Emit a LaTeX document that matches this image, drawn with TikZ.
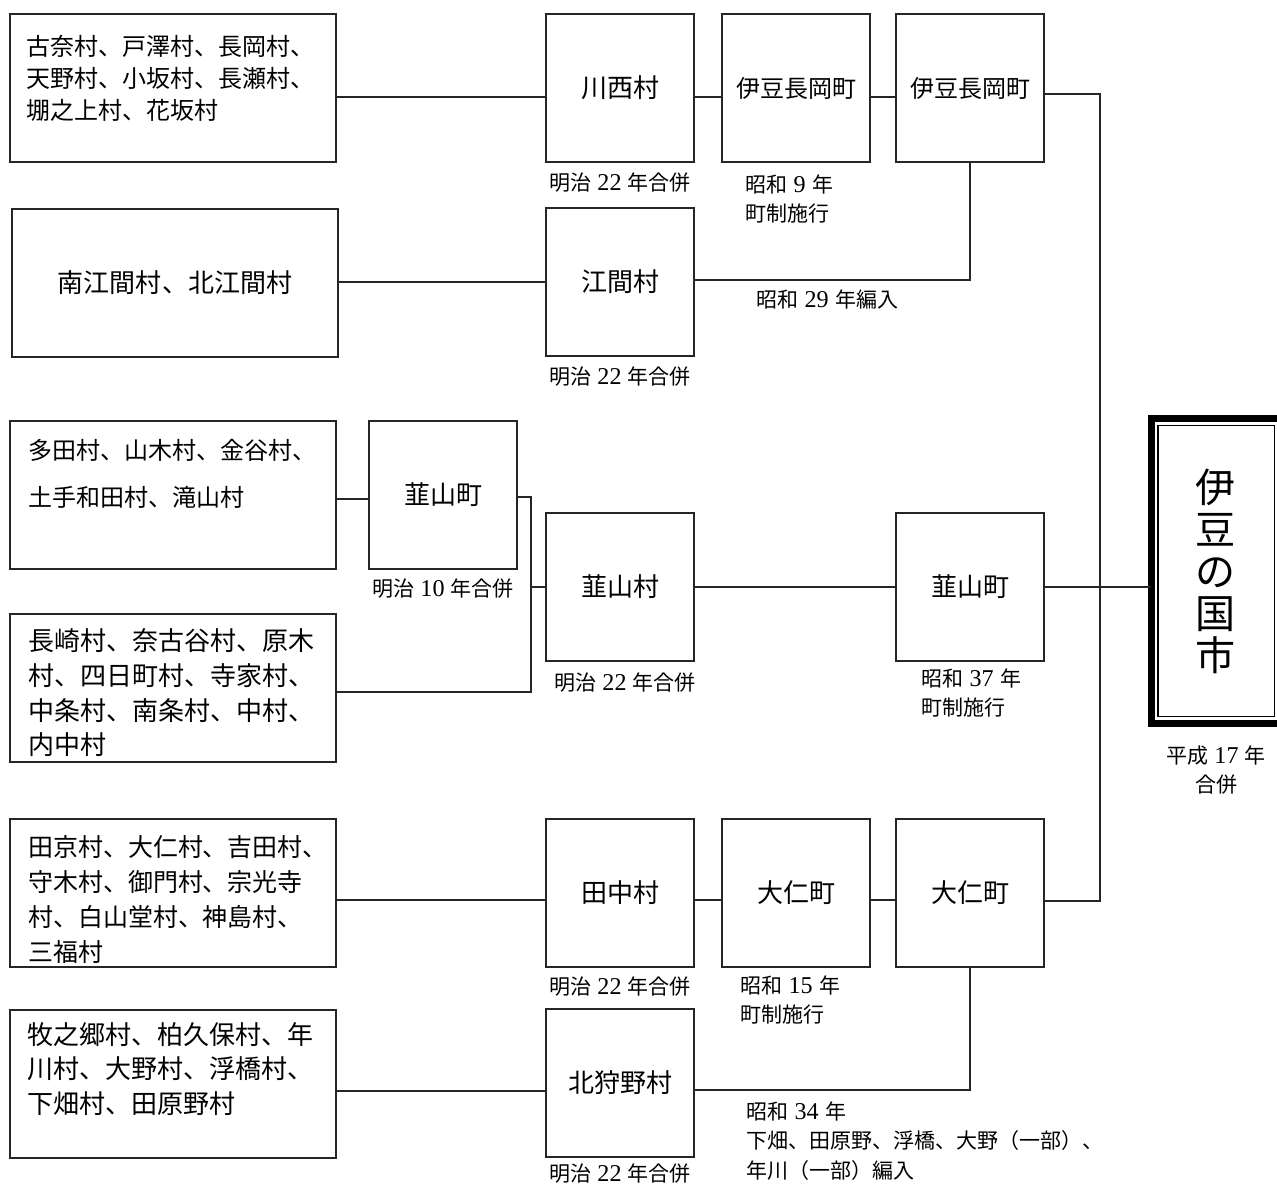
\documentclass[tikz,border=0pt]{standalone}
\usepackage{fontspec}
\setmainfont{Noto Sans CJK JP}
\newfontfamily\numfont[Scale=1.15]{Liberation Serif}
\usetikzlibrary{positioning}
\def\yrnum#1{\hspace{0.3em}{\numfont #1}\hspace{0.3em}}
\tikzset{
	villbox/.style={draw=black!85, line width=1.1pt, inner sep=0pt, minimum width=6.52cm, minimum height=2.96cm},
	srctext/.style={anchor=west, align=left, inner sep=0pt},
	townbox/.style={draw=black!85, line width=1.1pt, inner sep=0pt, minimum width=2.96cm, minimum height=2.96cm, font=\fontsize{14.8pt}{17pt}\selectfont},
	citybox/.style={draw=black, line width=4pt, inner sep=0pt, outer sep=0pt, minimum width=2.6cm, minimum height=6.12cm, align=center, font=\fontsize{22.8pt}{23.9pt}\selectfont},
	datenote/.style={inner sep=0pt, font=\fontsize{11.95pt}{16.6pt}\selectfont},
	joinline/.style={draw=black!85, line width=1pt}
}

\begin{document}
\begin{tikzpicture}[x=0.02cm, y=-0.02cm]
		%%%%% START %%%%%
		\clip (0,0) rectangle (1277,1185);
		\fill[white] (0,0) rectangle (1277,1185);
		
		\node[villbox] (src1) at (173,88) {};
		\node[srctext, font=\fontsize{13.66pt}{18.2pt}\selectfont] (src1t) at (26,78) {古奈村、戸澤村、長岡村、\\天野村、小坂村、長瀬村、\\堋之上村、花坂村};
		\node[villbox, font=\fontsize{14.8pt}{17pt}\selectfont] (src2) at (175,283) {南江間村、北江間村};
		\node[villbox] (src3) at (173,495) {};
		\node[srctext, font=\fontsize{13.66pt}{26.7pt}\selectfont] (src3t) at (28,473.5) {多田村、山木村、金谷村、\\土手和田村、滝山村};
		\node[villbox] (src4) at (173,688) {};
		\node[srctext, font=\fontsize{14.8pt}{19.7pt}\selectfont] (src4t) at (28,693) {長崎村、奈古谷村、原木\\村、四日町村、寺家村、\\中条村、南条村、中村、\\内中村};
		\node[villbox] (src5) at (173,893) {};
		\node[srctext, font=\fontsize{14.2pt}{19.9pt}\selectfont] (src5t) at (28,899.5) {田京村、大仁村、吉田村、\\守木村、御門村、宗光寺\\村、白山堂村、神島村、\\三福村};
		\node[villbox] (src6) at (173,1084) {};
		\node[srctext, font=\fontsize{14.8pt}{19.4pt}\selectfont] (src6t) at (27,1069) {牧之郷村、柏久保村、年\\川村、大野村、浮橋村、\\下畑村、田原野村};
		
		\node[townbox] (kawanishi) at (620,88) {川西村};
		\node[townbox, font=\fontsize{13.66pt}{16pt}\selectfont] (nagaoka) at (796,88) {伊豆長岡町};
		\node[townbox, font=\fontsize{13.66pt}{16pt}\selectfont] (nagaokaB) at (970,88) {伊豆長岡町};
		\node[townbox] (ema) at (620,282) {江間村};
		\node[townbox] (nirayamaA) at (443,495) {韮山町};
		\node[townbox] (nirayamaV) at (620,587) {韮山村};
		\node[townbox] (nirayamaB) at (970,587) {韮山町};
		\node[townbox] (tanaka) at (620,893) {田中村};
		\node[townbox] (ohito) at (796,893) {大仁町};
		\node[townbox] (ohitoB) at (970,893) {大仁町};
		\node[townbox] (kitakano) at (620,1083) {北狩野村};
		
		\node[citybox] (izu) at (1216,571) {伊\\豆\\の\\国\\市};
		\draw[line width=0.8pt] ([shift={(7,7.5)}]izu.north west) rectangle ([shift={(-6.5,-7.5)}]izu.south east);
		
		\node[datenote, below=0.18cm of kawanishi] (m22a) {明治\yrnum{22}年合併};
		\node[datenote, below=0.18cm of ema] (m22b) {明治\yrnum{22}年合併};
		\node[datenote, below=0.16cm of nirayamaA] (m10) {明治\yrnum{10}年合併};
		\node[datenote, below=0.2cm of nirayamaV, xshift=0.1cm] (m22c) {明治\yrnum{22}年合併};
		\node[datenote, below=0.17cm of tanaka] (m22d) {明治\yrnum{22}年合併};
		\node[datenote, below=0.1cm of kitakano] (m22e) {明治\yrnum{22}年合併};
		\node[datenote, align=left, anchor=north west] (s9) at (745,174) {昭和\yrnum{9}年\\町制施行};
		\node[datenote, anchor=west] (s29) at (756,299) {昭和\yrnum{29}年編入};
		\node[datenote, align=left, anchor=north west] (s37) at (921,668) {昭和\yrnum{37}年\\町制施行};
		\node[datenote, align=left, anchor=north west] (s15) at (740,975) {昭和\yrnum{15}年\\町制施行};
		\node[datenote, align=left, anchor=north west, font=\fontsize{11.95pt}{17pt}\selectfont] (s34) at (746,1101) {昭和\yrnum{34}年\\下畑、田原野、浮橋、大野（一部）、\\年川（一部）編入};
		\node[datenote, align=center, below=0.42cm of izu] (h17) {平成\yrnum{17}年\\合併};
		
		\coordinate (bus) at (1100,0);
		\coordinate (nirabus) at (531,0);
		
		\draw[joinline] (src1.east |- 0,97) -- (kawanishi.west |- 0,97);
		\draw[joinline] (kawanishi.east |- 0,97) -- (nagaoka.west |- 0,97);
		\draw[joinline] (nagaoka.east |- 0,97) -- (nagaokaB.west |- 0,97);
		\draw[joinline] (nagaokaB.east |- 0,94) -- (bus |- 0,94) -- (bus |- 0,901) -- (ohitoB.east |- 0,901);
		\draw[joinline] (src2.east |- ema.west) -- (ema.west);
		\draw[joinline] (ema.east |- 0,280) -| (nagaokaB.south);
		\draw[joinline] (src3.east |- 0,499) -- (nirayamaA.west |- 0,499);
		\draw[joinline] (nirayamaA.east |- 0,497) -- (nirabus |- 0,497) -- (nirabus |- 0,692) -- (src4.east |- 0,692);
		\draw[joinline] (nirabus |- nirayamaV.west) -- (nirayamaV.west);
		\draw[joinline] (nirayamaV.east) -- (nirayamaB.west |- nirayamaV.east);
		\draw[joinline] (nirayamaB.east) -- (izu.west |- nirayamaB.east);
		\draw[joinline] (src5.east |- 0,900) -- (tanaka.west |- 0,900);
		\draw[joinline] (tanaka.east |- 0,900) -- (ohito.west |- 0,900);
		\draw[joinline] (ohito.east |- 0,900) -- (ohitoB.west |- 0,900);
		\draw[joinline] (src6.east |- 0,1091) -- (kitakano.west |- 0,1091);
		\draw[joinline] (kitakano.east |- 0,1090) -| (ohitoB.south);
		%%%%% END %%%%%
\end{tikzpicture}
\end{document}
